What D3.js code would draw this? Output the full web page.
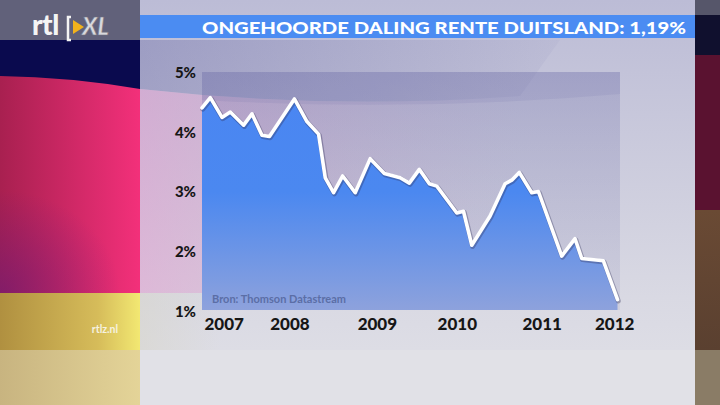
<!DOCTYPE html>
<html>
<head>
<meta charset="utf-8">
<script src="https://cdn.jsdelivr.net/npm/d3@7/dist/d3.min.js"></script>
<style>
  html, body { margin: 0; padding: 0; background: #000; }
  svg { display: block; }
  text { font-family: Lato, "Open Sans", sans-serif; }
</style>
</head>
<body>
<svg id="chart" width="720" height="405"></svg>
<script>
// ---- data ----
const titleText = "ONGEHOORDE DALING RENTE DUITSLAND: 1,19%";
const sourceText = "Bron: Thomson Datastream";
const siteText = "rtlz.nl";
const dates = [2007.00, 2007.10, 2007.24, 2007.34, 2007.50, 2007.60, 2007.72, 2007.81,
               2008.11, 2008.26, 2008.40, 2008.48, 2008.58, 2008.69, 2008.84,
               2009.02, 2009.19, 2009.38, 2009.49, 2009.61, 2009.73, 2009.82,
               2010.06, 2010.14, 2010.24, 2010.46, 2010.64, 2010.72, 2010.81, 2010.96,
               2011.04, 2011.32, 2011.48, 2011.56, 2011.82, 2011.99];
const rates = [4.40, 4.57, 4.24, 4.33, 4.11, 4.30, 3.94, 3.92,
               4.55, 4.17, 3.96, 3.23, 2.98, 3.26, 2.98,
               3.55, 3.30, 3.23, 3.14, 3.37, 3.13, 3.09,
               2.64, 2.67, 2.10, 2.59, 3.13, 3.19, 3.32, 2.98,
               3.00, 1.92, 2.21, 1.88, 1.84, 1.19];
const yTicks = [1, 2, 3, 4, 5];
const xTickPos = [2007.26, 2008.05, 2009.10, 2010.06, 2011.08, 2011.95];
const xTickLabels = ["2007", "2008", "2009", "2010", "2011", "2012"];

const data = dates.map((d, i) => ({ t: d, v: rates[i] }));

const svg = d3.select("#chart");
const defs = svg.append("defs");

function linGrad(id, x1, y1, x2, y2, stops) {
  const g = defs.append("linearGradient").attr("id", id)
    .attr("x1", x1).attr("y1", y1).attr("x2", x2).attr("y2", y2);
  stops.forEach(s => g.append("stop").attr("offset", s[0]).attr("stop-color", s[1]).attr("stop-opacity", s[2] == null ? 1 : s[2]));
  return "url(#" + id + ")";
}

// ---- background: flag on the left ----
svg.append("rect").attr("x", 0).attr("y", 0).attr("width", 140).attr("height", 405).attr("fill", "#0a0a4e");
svg.append("rect").attr("x", 0).attr("y", 0).attr("width", 140).attr("height", 40).attr("fill", "#61617a");
const redG = linGrad("redG", 0, 0, 1, 0, [[0, "#a82050"], [1, "#f3307a"]]);
svg.append("path").attr("d", "M0,76 Q70,77 140,89 L140,293 L0,293 Z").attr("fill", redG);
const rs = defs.append("radialGradient").attr("id", "redShade").attr("cx", 0).attr("cy", 1).attr("r", 1);
rs.append("stop").attr("offset", 0).attr("stop-color", "#6a1a78").attr("stop-opacity", 0.6);
rs.append("stop").attr("offset", 1).attr("stop-color", "#6a1a78").attr("stop-opacity", 0);
svg.append("rect").attr("x", 0).attr("y", 190).attr("width", 120).attr("height", 103).attr("fill", "url(#redShade)");
const goldG = linGrad("goldG", 0, 0, 1, 0, [[0, "#b09040"], [0.7, "#d6bc5a"], [1, "#f2e872"]]);
svg.append("rect").attr("x", 0).attr("y", 293).attr("width", 140).attr("height", 57).attr("fill", goldG);
const goldL = linGrad("goldL", 0, 0, 1, 0, [[0, "#c8b480"], [1, "#e4d498"]]);
svg.append("rect").attr("x", 0).attr("y", 350).attr("width", 140).attr("height", 55).attr("fill", goldL);

// right strip
svg.append("rect").attr("x", 695).attr("y", 0).attr("width", 25).attr("height", 405).attr("fill", "#5a1230");
svg.append("rect").attr("x", 695).attr("y", 0).attr("width", 25).attr("height", 15).attr("fill", "#56566a");
svg.append("rect").attr("x", 695).attr("y", 15).attr("width", 25).attr("height", 40).attr("fill", "#10102e");
svg.append("rect").attr("x", 695).attr("y", 210).attr("width", 25).attr("height", 140)
  .attr("fill", linGrad("brownG", 0, 0, 0, 1, [[0, "#6a4a34"], [1, "#5a4030"]]));
svg.append("rect").attr("x", 695).attr("y", 350).attr("width", 25).attr("height", 55).attr("fill", "#8a7c66");

// ---- main panel ----
const panelG = linGrad("panelG", 0, 0, 0, 1, [[0, "#bcbcd6"], [0.85, "#d9d9e3"], [1, "#dddde5"]]);
svg.append("rect").attr("x", 140).attr("y", 0).attr("width", 555).attr("height", 350).attr("fill", panelG);
svg.append("rect").attr("x", 140).attr("y", 350).attr("width", 555).attr("height", 55).attr("fill", "#e1e1e7");
// flag reflections on the panel
svg.append("path").attr("d", "M140,40 L140,89 Q330,110 520,96 L560,40 Z")
  .attr("fill", linGrad("navyTint", 0, 0, 1, 0, [[0, "#44448e", 0.28], [1, "#44448e", 0.04]]));
svg.append("path").attr("d", "M140,89 Q330,110 520,96 L520,293 L140,293 Z")
  .attr("fill", linGrad("pinkTint", 0, 0, 1, 0, [[0, "#e48cc8", 0.42], [0.5, "#d090c0", 0.18], [1, "#c8a0c8", 0]]));
svg.append("rect").attr("x", 140).attr("y", 293).attr("width", 80).attr("height", 57)
  .attr("fill", linGrad("greyTint", 0, 0, 1, 0, [[0, "#d8d6cc", 0.6], [1, "#d8d6cc", 0]]));

// ---- title bar ----
svg.append("rect").attr("x", 140).attr("y", 15).attr("width", 555).attr("height", 23).attr("fill", "#4b8cf2");
svg.append("text").attr("x", 202).attr("y", 33.5).attr("fill", "#ffffff")
  .attr("font-size", 17.5).attr("font-weight", 900)
  .attr("textLength", 484).attr("lengthAdjust", "spacingAndGlyphs")
  .text(titleText);

// ---- logo ----
svg.append("text").attr("x", 32).attr("y", 35).attr("fill", "#f4f4f4")
  .attr("font-size", 28).attr("font-weight", 900).attr("letter-spacing", -0.5).text("rtl");
svg.append("path").attr("d", "M71,17 L68,17 L68,40 L71,40").attr("fill", "none").attr("stroke", "#f4f4f4").attr("stroke-width", 2.5);
svg.append("path").attr("d", "M73,20 L84,27 L73,34 Z").attr("fill", "#f2b21c");
svg.append("text").attr("x", 82).attr("y", 35).attr("fill", "#d8d8dc").attr("stroke", "#707080").attr("stroke-width", 0.6)
  .attr("font-size", 24).attr("font-weight", 900).attr("font-style", "italic").text("XL");

// ---- chart ----
const x = d3.scaleLinear().domain([2007, 2012.02]).range([202, 620]);
const y = d3.scaleLinear().domain([1, 5]).range([311, 72]);
const [px0, px1] = x.range();
const pyTop = y(5), pyBot = y(1) - 1;

// plot background
svg.append("rect").attr("x", px0).attr("y", pyTop).attr("width", px1 - px0).attr("height", pyBot - pyTop)
  .attr("fill", linGrad("plotBg", 0, 0, 0, 1, [[0, "#6a6aa6", 0.28], [1, "#8080b0", 0.12]]));
svg.append("path")
  .attr("d", `M${px0},${pyTop} L${px1},${pyTop} L${px1},${pyTop + 22} Q${(px0 + px1) / 2},${pyTop + 40} ${px0},${pyTop + 28} Z`)
  .attr("fill", "#5a5a9a").attr("opacity", 0.1);

const areaG = linGrad("areaG", 0, 0, 0, 1, [[0, "#4a86f2"], [0.45, "#4b88f0"], [1, "#8ea2dc"]]);
defs.select("#areaG").attr("gradientUnits", "userSpaceOnUse").attr("x1", 0).attr("y1", 95).attr("x2", 0).attr("y2", 311);

const area = d3.area().x(d => x(d.t)).y0(pyBot).y1(d => y(d.v));
svg.append("path").datum(data).attr("d", area).attr("fill", areaG);

const line = d3.line().x(d => x(d.t)).y(d => y(d.v));
svg.append("path").datum(data).attr("d", line).attr("transform", "translate(0.8,1.2)")
  .attr("fill", "none").attr("stroke", "#30305a").attr("stroke-opacity", 0.35)
  .attr("stroke-width", 5).attr("stroke-linejoin", "round").attr("stroke-linecap", "round");
svg.append("path").datum(data).attr("d", line)
  .attr("fill", "none").attr("stroke", "#ffffff")
  .attr("stroke-width", 3.6).attr("stroke-linejoin", "round").attr("stroke-linecap", "round");

// source
svg.append("text").attr("x", 212).attr("y", 303).attr("fill", "#5b6ea6")
  .attr("font-size", 11).attr("font-weight", 700).text(sourceText);

// y axis
const yAxis = d3.axisLeft(y).tickValues(yTicks).tickFormat(d => d + "%").tickSize(0).tickPadding(0);
const yg = svg.append("g").attr("transform", "translate(196,0)").call(yAxis);
yg.select(".domain").remove();
yg.selectAll("text").attr("fill", "#161616").attr("font-size", 15).attr("font-weight", 900)
  .attr("font-family", "Lato, 'Open Sans', sans-serif").attr("dy", "0.36em");

// x axis
const xAxis = d3.axisBottom(x).tickValues(xTickPos).tickFormat((d, i) => xTickLabels[i]).tickSize(0).tickPadding(0);
const xg = svg.append("g").attr("transform", "translate(0,318)").call(xAxis);
xg.select(".domain").remove();
xg.selectAll("text").attr("fill", "#161616").attr("font-size", 17).attr("font-weight", 900)
  .attr("font-family", "Lato, 'Open Sans', sans-serif").attr("dy", "0.72em");

// site
svg.append("text").attr("x", 105).attr("y", 333).attr("text-anchor", "middle").attr("fill", "#f6f2e0")
  .attr("font-size", 10.5).attr("font-weight", 700).text(siteText);
</script>
</body>
</html>
